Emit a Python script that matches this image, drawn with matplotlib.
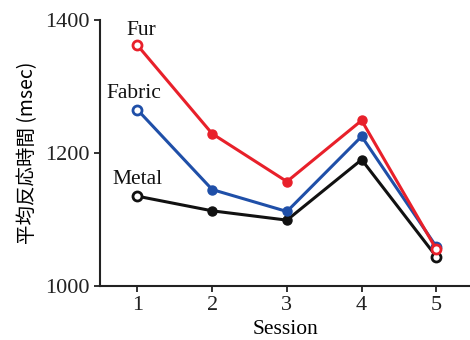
import matplotlib
matplotlib.use("Agg")
import matplotlib.pyplot as plt

sessions = [1, 2, 3, 4, 5]
fur = [1362, 1229, 1157, 1249, 1055]
fabric = [1265, 1145, 1112, 1225, 1059]
metal = [1135, 1113, 1099, 1190, 1044]
series_names = ["Fur", "Fabric", "Metal"]
colors = ["#e8202a", "#1f4fa8", "#111111"]
label_pos = [(1.05, 1384), (0.95, 1290), (1.0, 1160)]

plt.rcParams['font.family'] = ['Liberation Serif', 'DejaVu Serif']
fig = plt.figure(figsize=(4.7, 3.4), dpi=100)
ax = fig.add_axes([0.213, 0.159, 0.787, 0.782])

for i, (name, vals, c, lp) in enumerate(zip(series_names, [fur, fabric, metal], colors, label_pos)):
    z = 10 - 2 * i
    ax.plot(sessions, vals, color=c, lw=2.2, zorder=z)
    # filled markers for sessions 2-4, open for 1 and 5
    ax.plot(sessions[1:4], vals[1:4], 'o', color=c, ms=6.5, zorder=z + 1)
    ax.plot([sessions[0], sessions[4]], [vals[0], vals[4]], 'o', mfc='white',
            mec=c, mew=2, ms=6.5, zorder=z + 1)
    ax.text(lp[0], lp[1], name, ha='center', va='center', fontsize=15.5, color='#111111')

ax.set_xlim(0.5, 5.45)
ax.set_ylim(1000, 1400)
ax.set_xticks(sessions)
ax.set_yticks([1000, 1200, 1400])
ax.spines['top'].set_visible(False)
ax.spines['right'].set_visible(False)
for s in ['left', 'bottom']:
    ax.spines[s].set_linewidth(1.5)
    ax.spines[s].set_color('#222222')
ax.tick_params(direction='out', length=4, width=1.3, labelsize=16, colors='#222222')
ax.set_xlabel("Session", fontsize=15.5, labelpad=3)
ax.set_ylabel("平均反応時間 (msec)", fontsize=14,
              family=['Noto Sans CJK JP', 'DejaVu Sans'], labelpad=5)

fig.savefig("out.png", dpi=100)
